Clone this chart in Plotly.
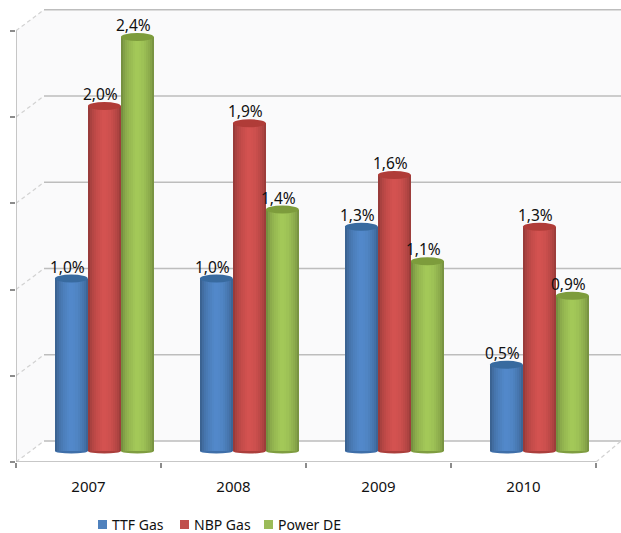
import plotly.graph_objects as go

# Chart data
years = ["2007", "2008", "2009", "2010"]
ttf_gas = [1.0, 1.0, 1.3, 0.5]
nbp_gas = [2.0, 1.9, 1.6, 1.3]
power_de = [2.4, 1.4, 1.1, 0.9]
series_names = ["TTF Gas", "NBP Gas", "Power DE"]
grid_levels = [0.0, 0.5, 1.0, 1.5, 2.0, 2.5]

# Side shading of a cylinder, soft dark edges with a lit band near the centre
edge_profile = [0.76, 0.84, 0.90, 0.94, 0.98, 1.0, 1.03, 1.05,
                1.05, 1.04, 1.02, 0.99, 0.95, 0.91, 0.86, 0.78]
base_colors = [(78, 130, 192), (201, 78, 76), (155, 190, 84)]
cap_colors = ["#386a9f", "#b03c38", "#7d9c3c"]
foot_colors = ["#3f6fa9", "#ab3f3c", "#7f9d40"]

W, H = 621, 533
PLOT_L, PLOT_B = 16, 462
CAT_PX = 145.0
UNIT_PX = 172.5
ZERO_PX = 451.0
xs = list(range(len(years)))

# Axis windows that give 145 px per category and 172.5 px per percentage point
x_lo = -0.5
x_hi = x_lo + (W - PLOT_L) / CAT_PX
y_lo = -(PLOT_B - ZERO_PX) / UNIT_PX
y_hi = ZERO_PX / UNIT_PX

# Depth of the pseudo-3D box in data units
depth_x = 28 / CAT_PX
depth_y_front = y_lo
depth_y_back = 10 / UNIT_PX

bar_w = 33 / CAT_PX
group_start = -0.232
slices = len(edge_profile)


def shade(rgb, k):
    return "rgb(%d,%d,%d)" % tuple(min(255, round(c * k)) for c in rgb)


def key_x_frac(px):
    return (px - PLOT_L) / (W - PLOT_L)


def key_y_frac(py):
    return (PLOT_B - py) / PLOT_B


fig = go.Figure()
shapes = []
annotations = []

grid_color = "#bdbdbd"
# Back wall and side wall
shapes.append(dict(
    type="path", xref="x", yref="y", layer="below", line_width=0, fillcolor="#fafafb",
    path=f"M {x_lo} {grid_levels[-1] + depth_y_front} L {x_lo + depth_x} {grid_levels[-1] + depth_y_back} "
         f"L {x_hi} {grid_levels[-1] + depth_y_back} L {x_hi} {depth_y_back} "
         f"L {x_lo + depth_x} {depth_y_back} L {x_lo} {depth_y_front} Z",
))
# Gridlines on the back wall with their diagonals down the side wall
for level in grid_levels:
    shapes.append(dict(type="line", xref="x", yref="y", layer="below",
                       x0=x_lo + depth_x, x1=x_hi,
                       y0=level + depth_y_back, y1=level + depth_y_back,
                       line=dict(color=grid_color, width=1.5)))
    shapes.append(dict(type="line", xref="x", yref="y", layer="below",
                       x0=x_lo, x1=x_lo + depth_x,
                       y0=level + depth_y_front, y1=level + depth_y_back,
                       line=dict(color="#d2d2d2", width=1.2, dash="4px,3px")))
# Front frame of the box
shapes.append(dict(type="line", xref="x", yref="y", layer="below",
                   x0=x_lo, x1=x_lo, y0=depth_y_front, y1=grid_levels[-1] + depth_y_front,
                   line=dict(color="#b4b4b4", width=1.5)))
shapes.append(dict(type="line", xref="x", yref="y", layer="below",
                   x0=x_lo, x1=x_lo + len(years), y0=depth_y_front, y1=depth_y_front,
                   line=dict(color="#b4b4b4", width=1.5)))
shapes.append(dict(type="line", xref="x", yref="y", layer="below",
                   x0=x_lo + len(years), x1=x_hi, y0=depth_y_front, y1=depth_y_back,
                   line=dict(color="#d2d2d2", width=1.2, dash="4px,3px")))

all_values = [ttf_gas, nbp_gas, power_de]
for s, values in enumerate(all_values):
    left = group_start + s * bar_w
    # Later slices paint over earlier ones so no seams appear between them
    for i, k in enumerate(edge_profile):
        fig.add_trace(go.Bar(
            x=xs, y=values,
            offset=left + i * bar_w / slices,
            width=bar_w * (slices - i) / slices + 0.6 / CAT_PX,
            marker=dict(color=shade(base_colors[s], k), line_width=0),
            showlegend=False, hoverinfo="skip" if i else "y",
            name=series_names[s],
        ))
    for x, v in zip(xs, values):
        x0, x1 = x + left, x + left + bar_w
        # Top cap of the cylinder
        shapes.append(dict(type="circle", xref="x", yref="y", layer="above",
                           x0=x0, x1=x1, y0=v - 4 / UNIT_PX, y1=v + 4 / UNIT_PX,
                           line_width=0, fillcolor=cap_colors[s]))
        # Rounded foot of the cylinder, behind the slices
        shapes.append(dict(type="circle", xref="x", yref="y", layer="below",
                           x0=x0, x1=x1, y0=-2.5 / UNIT_PX, y1=2.5 / UNIT_PX,
                           line_width=0, fillcolor=foot_colors[s]))

# Value labels above each cylinder, lifted clear of the caps
for s, values in enumerate(all_values):
    left = group_start + s * bar_w
    fig.add_trace(go.Scatter(
        x=[x + left + bar_w / 2 - 4 / CAT_PX for x in xs],
        y=[v + 2 / UNIT_PX for v in values],
        mode="text",
        text=[f"{v:.1f}%".replace(".", ",") for v in values],
        textposition="top center",
        textfont=dict(family="Noto Sans", size=15.5, color="#111111"),
        showlegend=False, hoverinfo="skip",
        cliponaxis=False,
    ))

# Series key under the chart
key_x = [98, 180, 264]
key_colors = ["#4f81bd", "#c0504d", "#9bbb59"]
for px, name, color in zip(key_x, series_names, key_colors):
    shapes.append(dict(type="rect", xref="paper", yref="paper",
                       x0=key_x_frac(px), x1=key_x_frac(px + 9),
                       y0=key_y_frac(529), y1=key_y_frac(520),
                       line_width=0, fillcolor=color))
    annotations.append(dict(xref="paper", yref="paper",
                            x=key_x_frac(px + 13), y=key_y_frac(524.5),
                            xanchor="left", yanchor="middle", showarrow=False, text=name,
                            borderpad=0,
                            font=dict(family="Noto Sans", size=14, color="#111111")))

fig.update_layout(
    width=W, height=H, autosize=False,
    margin=dict(l=PLOT_L, r=0, t=0, b=H - PLOT_B, pad=0),
    paper_bgcolor="white", plot_bgcolor="white",
    barmode="overlay", bargap=0,
    showlegend=False,
    shapes=shapes, annotations=annotations,
    xaxis=dict(
        range=[x_lo, x_hi], zeroline=False, showgrid=False, showline=False,
        tickmode="array", tickvals=xs, ticktext=years, ticks="",
        ticklabelstandoff=14,
        tickfont=dict(family="Noto Sans", size=15, color="#111111"),
        minor=dict(tickmode="array",
                   tickvals=[x_lo + i for i in range(len(years) + 1)],
                   ticks="outside", ticklen=5, tickwidth=1.5, tickcolor="#8c8c8c",
                   showgrid=False),
    ),
    yaxis=dict(
        range=[y_lo, y_hi], zeroline=False, showgrid=False, showline=False,
        tickmode="array", tickvals=[g + y_lo for g in grid_levels],
        ticks="outside", ticklen=5, tickwidth=1.5, tickcolor="#8c8c8c",
        showticklabels=False,
    ),
)

fig.write_html("out.html")
